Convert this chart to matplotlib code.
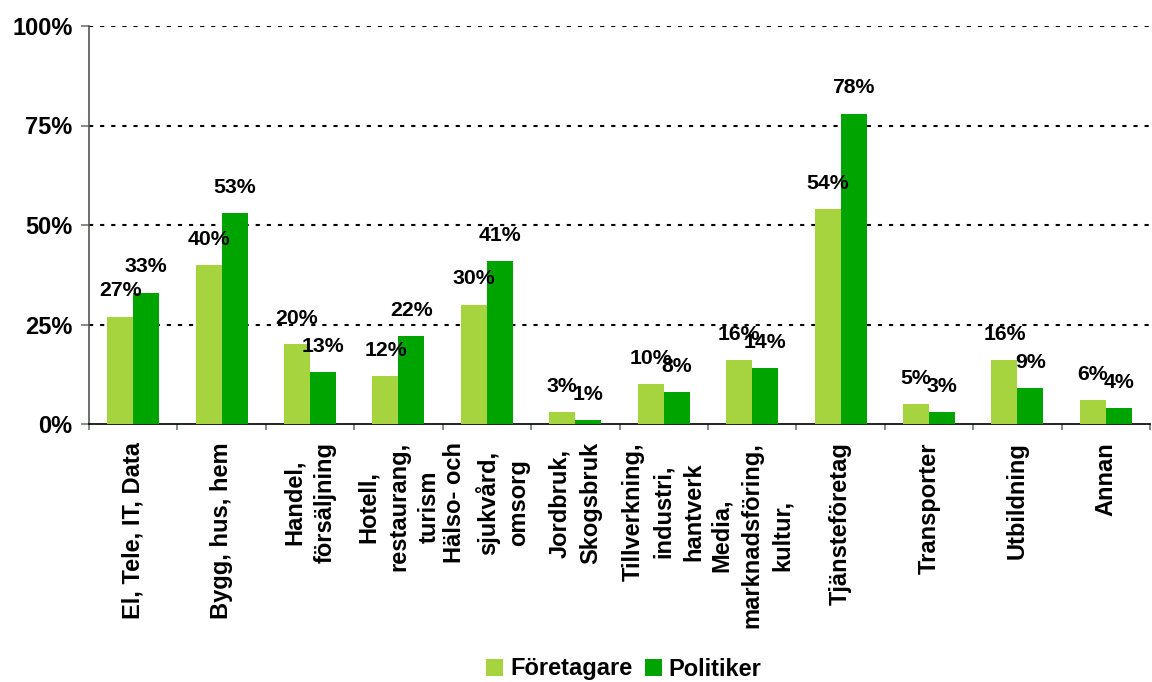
import matplotlib
matplotlib.use("Agg")
import matplotlib.pyplot as plt
import numpy as np

categories = [
    "El, Tele, IT, Data",
    "Bygg, hus, hem",
    "Handel,\nförsäljning",
    "Hotell,\nrestaurang,\nturism",
    "Hälso- och\nsjukvård,\nomsorg",
    "Jordbruk,\nSkogsbruk",
    "Tillverkning,\nindustri,\nhantverk",
    "Media,\nmarknadsföring,\nkultur,",
    "Tjänsteföretag",
    "Transporter",
    "Utbildning",
    "Annan",
]
foretagare = [27, 40, 20, 12, 30, 3, 10, 16, 54, 5, 16, 6]
politiker = [33, 53, 13, 22, 41, 1, 8, 14, 78, 3, 9, 4]
series_names = ["Företagare", "Politiker"]
y_ticks = [0, 25, 50, 75, 100]
y_tick_labels = ["0%", "25%", "50%", "75%", "100%"]

plt.rcParams['font.family'] = ['Liberation Sans', 'DejaVu Sans']
plt.rcParams['font.weight'] = 'bold'
plt.rcParams['lines.scale_dashes'] = False

c_light = '#A5D43E'
c_dark = '#00A400'

fig = plt.figure(figsize=(11.52, 6.82), dpi=100)
ax = fig.add_axes([89/1152, 1 - 424/682, (1150 - 89)/1152, (424 - 26)/682])

x = np.arange(len(categories))
w = 0.294
b1 = ax.bar(x - w/2, foretagare, width=w, color=c_light, label=series_names[0], zorder=3)
b2 = ax.bar(x + w/2, politiker, width=w, color=c_dark, label=series_names[1], zorder=3)

for bars, vals in ((b1, foretagare), (b2, politiker)):
    for rect, v in zip(bars, vals):
        ax.annotate(f"{v}%", (rect.get_x() + rect.get_width()/2, v),
                    xytext=(0, 18.5), textcoords='offset points',
                    ha='center', va='center', fontsize=15.3, fontweight='bold',
                    color='black', zorder=5)

ax.set_xlim(-0.5, len(categories) - 0.5)
ax.set_ylim(0, 100)

for yv in y_ticks[1:]:
    ax.axhline(yv, color='black', linewidth=1.5, linestyle=(0, (3, 5)), zorder=1)

ax.set_yticks(y_ticks)
ax.set_yticklabels(y_tick_labels, fontsize=17, fontweight='bold')
ax.tick_params(axis='y', direction='out', length=5.8, width=1.2, color='#6b7b6b', pad=6)

ax.set_xticks(x)
ax.set_xticklabels(categories, rotation=90, fontsize=17, fontweight='bold',
                   ha='center', va='top', multialignment='center', linespacing=1.42)
ax.tick_params(axis='x', which='major', length=0, pad=13)
ax.set_xticks(np.arange(-0.5, len(categories), 1), minor=True)
ax.tick_params(axis='x', which='minor', direction='out', length=4.3, width=1.2, color='#6b7b6b')

for s in ('top', 'right'):
    ax.spines[s].set_visible(False)
ax.spines['left'].set_color('#555555')
ax.spines['left'].set_linewidth(1.2)
ax.spines['bottom'].set_color('black')
ax.spines['bottom'].set_linewidth(1.2)

fig.legend(handles=[b1, b2], labels=series_names, loc='center',
           bbox_to_anchor=(624/1152, 1 - 669/682), ncol=2, frameon=False,
           prop={'weight': 'bold', 'size': 17},
           handlelength=0.7, handleheight=0.7, handletextpad=0.3,
           columnspacing=0.55, borderaxespad=0, borderpad=0)

fig.savefig("out.png", dpi=100)
